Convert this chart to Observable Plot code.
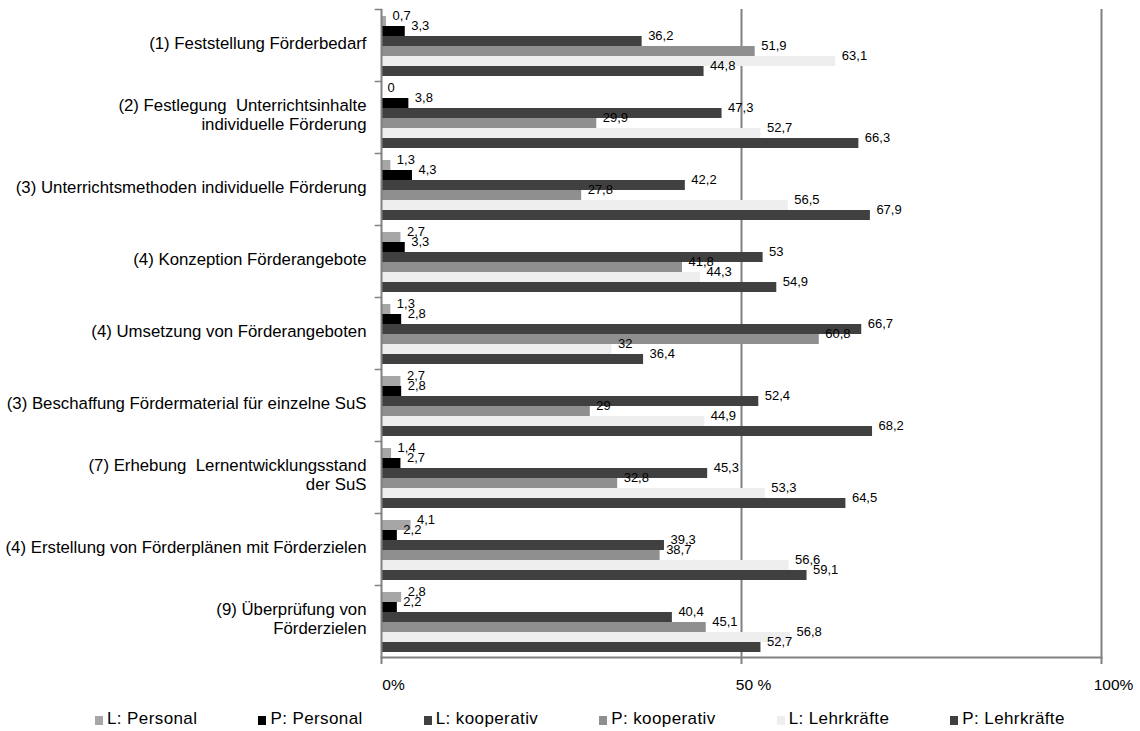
<!DOCTYPE html>
<html><head><meta charset="utf-8">
<script src="https://cdn.jsdelivr.net/npm/d3@7"></script>
<script src="https://cdn.jsdelivr.net/npm/@observablehq/plot@0.6"></script>
<style>
body{margin:0;background:#fff;font-family:"Liberation Sans",Arial,sans-serif;}
#chart{width:1140px;}
.legend{display:flex;gap:61px;padding-left:95px;margin-top:9px;font-size:17px;letter-spacing:0.4px;color:#000;align-items:center;}
.legend span.sw{display:inline-block;width:8px;height:9px;margin-right:4px;vertical-align:-1px;}
</style></head><body><div id="chart"></div>
<script>
const categories = [
  "(1) Feststellung Förderbedarf",
  "(2) Festlegung  Unterrichtsinhalte\nindividuelle Förderung",
  "(3) Unterrichtsmethoden individuelle Förderung",
  "(4) Konzeption Förderangebote",
  "(4) Umsetzung von Förderangeboten",
  "(3) Beschaffung Fördermaterial für einzelne SuS",
  "(7) Erhebung  Lernentwicklungsstand\nder SuS",
  "(4) Erstellung von Förderplänen mit Förderzielen",
  "(9) Überprüfung von\nFörderzielen"
];
const series = ["L: Personal","P: Personal","L: kooperativ","P: kooperativ","L: Lehrkräfte","P: Lehrkräfte"];
const lPersonal    = [0.7, 0,    1.3,  2.7,  1.3,  2.7,  1.4,  4.1,  2.8];
const pPersonal    = [3.3, 3.8,  4.3,  3.3,  2.8,  2.8,  2.7,  2.2,  2.2];
const lKooperativ  = [36.2,47.3, 42.2, 53,   66.7, 52.4, 45.3, 39.3, 40.4];
const pKooperativ  = [51.9,29.9, 27.8, 41.8, 60.8, 29,   32.8, 38.7, 45.1];
const lLehrkraefte = [63.1,52.7, 56.5, 44.3, 32,   44.9, 53.3, 56.6, 56.8];
const pLehrkraefte = [44.8,66.3, 67.9, 54.9, 36.4, 68.2, 64.5, 59.1, 52.7];
const xTicks = [0, 50, 100];
const xTickLabels = ["0%", "50 %", "100%"];
const colors = ["#a6a6a6", "#000000", "#404040", "#8f8f8f", "#eeeeee", "#404040"];

const seriesValues = [lPersonal, pPersonal, lKooperativ, pKooperativ, lLehrkraefte, pLehrkraefte];
const rows = [];
categories.forEach((c, i) => series.forEach((s, j) => rows.push({category: c, series: s, value: seriesValues[j][i]})));

const W = 1140, H = 700, mL = 381, mR = 39, mT = 8, mB = 43;
const plotW = W - mL - mR;
const axisColor = "#808080";

const chart = Plot.plot({
  width: W, height: H,
  marginLeft: mL, marginRight: mR, marginTop: mT, marginBottom: mB,
  style: {fontFamily: '"Liberation Sans", Arial, sans-serif', background: "#fff", color: "#000"},
  x: {domain: [0, 100], axis: null},
  fy: {domain: categories, padding: 0, axis: null},
  y: {domain: series, paddingInner: 0.04, paddingOuter: 0.6, align: 0.6, axis: null},
  color: {domain: series, range: colors},
  marks: [
    Plot.ruleX([50], {stroke: axisColor, strokeWidth: 2}),
    Plot.barX(rows, {fy: "category", y: "series", x: "value", fill: "series"}),
    Plot.ruleX([0, 100], {stroke: axisColor, strokeWidth: 2}),
    Plot.frame({anchor: "top", stroke: axisColor, strokeWidth: 1.5, insetLeft: -6, insetRight: plotW}),
    Plot.text(rows, {fy: "category", y: "series", x: "value",
      text: d => String(d.value).replace(".", ","),
      textAnchor: "start", dx: 6, dy: -6, fontSize: 13, fill: "#000"}),
    Plot.axisFy({anchor: "left", tickSize: 0, tickPadding: 15, fontSize: 16.8, lineHeight: 1.13, dy: -3, label: null, tickFormat: d => d}),
    Plot.frame({anchor: "bottom", facetAnchor: "bottom", stroke: axisColor, strokeWidth: 2}),
    Plot.axisX(xTicks, {anchor: "bottom", tickSize: 7, stroke: axisColor, strokeWidth: 2, label: null, tickFormat: () => ""}),
    Plot.axisX(xTicks, {anchor: "bottom", tickSize: 0, tickPadding: 21, fontSize: 15.5, dx: 12, label: null,
      letterSpacing: "0.5px", tickFormat: d => xTickLabels[xTicks.indexOf(d)]})
  ]
});

const root = document.getElementById("chart");
root.appendChild(chart);
const legend = document.createElement("div");
legend.className = "legend";
series.forEach((s, j) => {
  const item = document.createElement("div");
  const sw = document.createElement("span");
  sw.className = "sw";
  sw.style.background = colors[j];
  item.appendChild(sw);
  item.appendChild(document.createTextNode(s));
  legend.appendChild(item);
});
root.appendChild(legend);
</script>
</body></html>
